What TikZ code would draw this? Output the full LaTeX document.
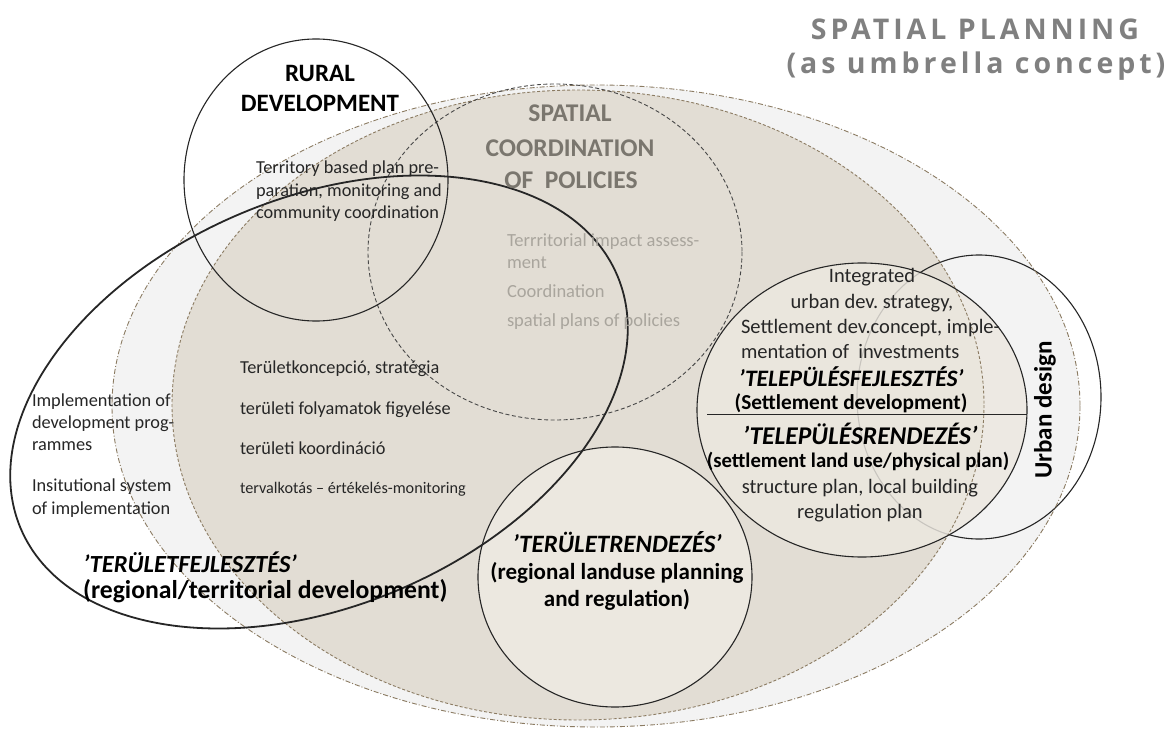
\documentclass[tikz,border=0pt]{standalone}
\usepackage{fontspec}
\setmainfont{Carlito}
\newfontfamily\titlefont[LetterSpace=14]{Open Sans}
\definecolor{outerfill}{HTML}{F3F3F3}
\definecolor{innerfill}{HTML}{E2DDD4}
\definecolor{lightfill}{HTML}{ECE8E0}
\definecolor{brownline}{HTML}{8B7B62}
\definecolor{coordgray}{HTML}{7A766E}
\definecolor{palegray}{HTML}{A9A59D}
\definecolor{titlegray}{HTML}{808080}
\definecolor{inkc}{HTML}{262626}
\frenchspacing
\begin{document}
\begin{tikzpicture}[x=1pt,y=-1pt,
  every node/.style={inner sep=0pt, outer sep=0pt},
  lowered/.style={yshift=-4.5pt},
  ttl/.style={font=\titlefont\bfseries\fontsize{28.5}{32}\selectfont, text=titlegray},
  txt/.style={font=\fontsize{18.3}{21}\selectfont, text=inkc, lowered},
  settxt/.style={font=\fontsize{20.5}{24}\selectfont, text=inkc, lowered},
  smalltxt/.style={font=\fontsize{16.2}{19}\selectfont, text=inkc, lowered},
  paletxt/.style={font=\fontsize{18.5}{21}\selectfont, text=palegray, lowered},
  bigbold/.style={font=\bfseries\fontsize{25}{28}\selectfont, text=black},
  coordbold/.style={font=\bfseries\fontsize{25.5}{28}\selectfont, text=coordgray},
  bolditl/.style={font=\bfseries\itshape\fontsize{24.6}{28}\selectfont, text=black},
  boldtxt/.style={font=\bfseries\fontsize{23}{27}\selectfont, text=black, lowered},
  udtxt/.style={font=\bfseries\fontsize{25}{29}\selectfont, text=black},
  thinring/.style={draw=inkc, line width=1.1pt},
  dashdotring/.style={draw=brownline, line width=0.9pt, dash pattern=on 5pt off 2pt on 1pt off 2pt},
  dashring/.style={draw=brownline, line width=0.9pt, dash pattern=on 3pt off 2pt},
  coordring/.style={draw=inkc!85, line width=0.9pt, dash pattern=on 4pt off 2.5pt}
]
\useasboundingbox (0,0) rectangle (1165,733);
\fill[white] (0,0) rectangle (1165,733);

% fills
\fill[outerfill] (596,406) ellipse [x radius=484, y radius=321];
\fill[innerfill] (578,405) ellipse [x radius=406, y radius=315];
\fill[lightfill] (615,577) ellipse [x radius=137, y radius=130];
\draw[thinring] (979,397) ellipse [x radius=122, y radius=142];
\fill[lightfill, opacity=0.82] (862,410) ellipse [x radius=165, y radius=147];

% outlines
\draw[dashdotring] (596,406) ellipse [x radius=484, y radius=321];
\draw[dashring] (578,405) ellipse [x radius=406, y radius=315];
\draw[coordring] (555,252) ellipse [x radius=187, y radius=168];
\draw[thinring] (316,180) ellipse [x radius=132, y radius=141];
\draw[thinring] (615,577) ellipse [x radius=137, y radius=130];
\draw[thinring] (862,410) ellipse [x radius=165, y radius=147];
\draw[draw=inkc, line width=1.8pt, rotate around={23:(319,402)}] (319,402) ellipse [x radius=324, y radius=204];

\coordinate (hl) at (707,414);
\coordinate (hr) at (1027,414);
\draw[inkc, line width=1pt] (hl) -- (hr);

% title
\node[ttl] (t1) at (975,29) {SPATIAL PLANNING};
\node[ttl] (t2) at (976,66) {(as umbrella concept)};

% rural development
\node[bigbold] (r1) at (320,73) {RURAL};
\node[bigbold] (r2) at (320,103) {DEVELOPMENT};
\node[txt, anchor=mid west] (tb1) at (256,167) {Territory based plan pre-};
\node[txt, anchor=mid west] (tb2) at (256,190) {paration, monitoring and};
\node[txt, anchor=mid west] (tb3) at (256,212) {community coordination};

% spatial coordination
\node[coordbold] (s1) at (570,113) {SPATIAL};
\node[coordbold] (s2) at (570,148) {COORDINATION};
\node[coordbold] (s3) at (571,180) {OF\ \ POLICIES};
\node[paletxt, anchor=mid west] (p1) at (507,240) {Terrritorial impact assess-};
\node[paletxt, anchor=mid west] (p2) at (507,262) {ment};
\node[paletxt, anchor=mid west] (p3) at (507,291) {Coordination};
\node[paletxt, anchor=mid west] (p4) at (507,320) {spatial plans of policies};

% left texts
\node[txt, anchor=mid west] (l1) at (32,400) {Implementation of};
\node[txt, anchor=mid west] (l2) at (32,422) {development prog-};
\node[txt, anchor=mid west] (l3) at (32,444) {rammes};
\node[txt, anchor=mid west] (l4) at (32,485) {Insitutional system};
\node[txt, anchor=mid west] (l5) at (32,508) {of implementation};

% middle texts
\node[txt, anchor=mid west] (m1) at (240,367) {Területkoncepció, stratégia};
\node[txt, anchor=mid west] (m2) at (240,408) {területi folyamatok figyelése};
\node[txt, anchor=mid west] (m3) at (240,448) {területi koordináció};
\node[smalltxt, anchor=mid west] (m4) at (240,487) {tervalkotás – értékelés-monitoring};

% territorial development
\node[bolditl, anchor=west] (tf1) at (83,562) {’TERÜLETFEJLESZTÉS’};
\node[boldtxt, font=\bfseries\fontsize{25.7}{29}\selectfont, anchor=mid west] (tf2) at (83,592) {(regional/territorial development)};

% landuse
\node[bolditl, font=\bfseries\itshape\fontsize{25}{29}\selectfont] (lu1) at (617,542) {’TERÜLETRENDEZÉS’};
\node[boldtxt, anchor=mid] (lu2) at (617,573) {(regional landuse planning};
\node[boldtxt, anchor=mid] (lu3) at (617,600) {and regulation)};

% settlement
\node[settxt, anchor=mid] (se1) at (872,276) {Integrated};
\node[settxt, anchor=mid] (se2) at (872,302) {urban dev. strategy,};
\node[settxt, anchor=mid west] (se3) at (741,327) {Settlement dev.concept, imple-};
\node[settxt, anchor=mid west] (se4) at (741,352) {mentation of\ \ investments};
\node[bolditl, font=\bfseries\itshape\fontsize{23.6}{27}\selectfont] (se5) at (851,377) {’TELEPÜLÉSFEJLESZTÉS’};
\node[boldtxt, font=\bfseries\fontsize{21.3}{25}\selectfont, anchor=mid] (se6) at (851,403) {(Settlement development)};
\node[bolditl, font=\bfseries\itshape\fontsize{25.5}{29}\selectfont] (se7) at (860,434) {’TELEPÜLÉSRENDEZÉS’};
\node[boldtxt, font=\bfseries\fontsize{20.7}{24}\selectfont, anchor=mid] (se8) at (858,461) {(settlement land use/physical plan)};
\node[settxt, anchor=mid] (se9) at (860,487) {structure plan, local building};
\node[settxt, anchor=mid] (se10) at (860,512) {regulation plan};

% urban design
\node[udtxt, rotate=90] (ud) at (1045,410) {Urban design};
\end{tikzpicture}
\end{document}
